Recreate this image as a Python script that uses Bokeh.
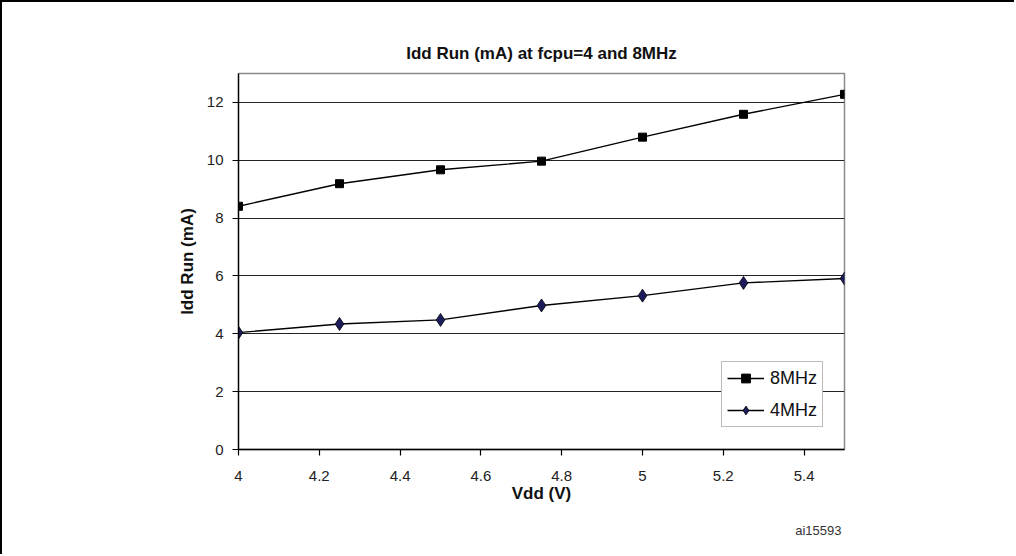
from bokeh.plotting import figure
from bokeh.models import FixedTicker, Legend, LegendItem, Title
from bokeh.embed import file_html
from bokeh.resources import INLINE

# ---- data ----
vdd = [4.0, 4.25, 4.5, 4.75, 5.0, 5.25, 5.5]
idd_8mhz = [8.41, 9.19, 9.67, 9.97, 10.80, 11.59, 12.28]
idd_4mhz = [4.04, 4.34, 4.48, 4.98, 5.32, 5.76, 5.91]
x_ticks = [4.0, 4.2, 4.4, 4.6, 4.8, 5.0, 5.2, 5.4]
x_tick_labels = ["4", "4.2", "4.4", "4.6", "4.8", "5", "5.2", "5.4"]
y_ticks = [0, 2, 4, 6, 8, 10, 12]
title_text = "Idd Run (mA) at fcpu=4 and 8MHz"
x_label = "Vdd (V)"
y_label = "Idd Run (mA)"
series_names = ["8MHz", "4MHz"]
footnote = "ai15593"

FONT = "Liberation Sans"

p = figure(width=1014, height=554, output_backend="svg", toolbar_location=None,
           x_range=(4.0, 5.5), y_range=(0, 13),
           min_border_left=238, min_border_right=170,
           min_border_top=73, min_border_bottom=105,
           title=title_text)
p.styles = {"box-shadow": "inset 2px 2px 0px 0px black"}

p.title.align = "center"
p.title.text_font = FONT
p.title.text_font_size = "17px"
p.title.text_font_style = "bold"
p.title.text_color = "#111111"
p.title.standoff = 21

p.outline_line_color = "#8a8a8a"
p.outline_line_width = 1.5
p.background_fill_color = "white"
p.border_fill_color = None

# axes
p.xaxis.ticker = FixedTicker(ticks=x_ticks)
p.xaxis.major_label_overrides = {t: l for t, l in zip(x_ticks, x_tick_labels)}
p.yaxis.ticker = FixedTicker(ticks=y_ticks)
for ax in (p.xaxis, p.yaxis):
    ax.axis_line_color = "black"
    ax.axis_line_width = 1.3
    ax.major_tick_line_color = "black"
    ax.major_tick_line_width = 1.2
    ax.major_tick_out = 6
    ax.major_tick_in = 0
    ax.minor_tick_line_color = None
    ax.major_label_text_font = FONT
    ax.major_label_text_font_size = "15px"
    ax.major_label_text_color = "#222222"
    ax.axis_label_text_font = FONT
    ax.axis_label_text_font_size = "17px"
    ax.axis_label_text_font_style = "bold"
    ax.axis_label_text_color = "#111111"
p.xaxis.axis_label = x_label
p.yaxis.axis_label = y_label
p.xaxis.major_label_standoff = 15
p.yaxis.major_label_standoff = 9
p.xaxis.axis_label_standoff = 0
p.yaxis.axis_label_standoff = 7

p.xgrid.grid_line_color = None
p.ygrid.ticker = FixedTicker(ticks=y_ticks)
p.ygrid.grid_line_color = "#222222"
p.ygrid.grid_line_width = 1.1

# series
l8 = p.line(vdd, idd_8mhz, line_color="black", line_width=1.4)
m8 = p.scatter(vdd, idd_8mhz, marker="square", size=8, fill_color="black", line_color="black")
l4 = p.line(vdd, idd_4mhz, line_color="black", line_width=1.4)
m4 = p.scatter(vdd, idd_4mhz, marker="diamond", size=13, fill_color="#1c1c5c", line_color="black", line_width=0.8)

legend = Legend(items=[LegendItem(label=series_names[0], renderers=[l8, m8]),
                       LegendItem(label=series_names[1], renderers=[l4, m4])],
                location=(483, 22))
legend.label_text_font = FONT
legend.label_text_font_size = "18px"
legend.label_text_color = "#111111"
legend.glyph_width = 37
legend.glyph_height = 22
legend.label_height = 22
legend.label_standoff = 6
legend.spacing = 10
legend.padding = 5
legend.margin = 0
legend.border_line_color = "#777777"
legend.border_line_width = 1.5
legend.background_fill_color = "white"
legend.background_fill_alpha = 1.0
p.add_layout(legend, "center")

foot = Title(text=footnote, align="right", text_font=FONT, text_font_size="13px",
             text_font_style="normal", text_color="#333333", standoff=30, offset=3)
p.add_layout(foot, "below")

open("out.html", "w").write(file_html(p, INLINE))
